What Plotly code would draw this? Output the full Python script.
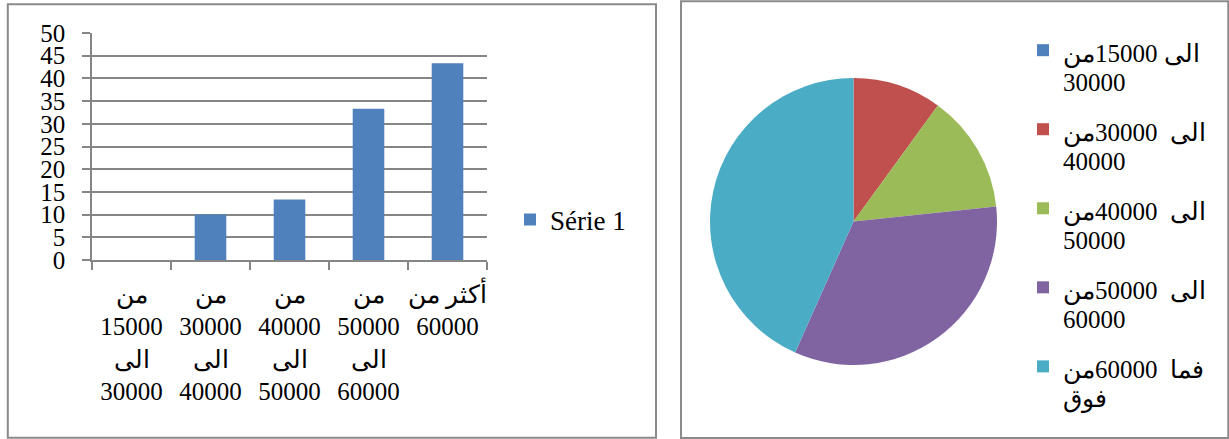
import plotly.graph_objects as go

# ---------------- data ----------------
categories = [
    "من<br>15000<br>الى<br>30000",
    "من<br>30000<br>الى<br>40000",
    "من<br>40000<br>الى<br>50000",
    "من<br>50000<br>الى<br>60000",
    "أكثر من<br>60000",
]
values = [0, 10, 13.33, 33.33, 43.33]
series_name = "Série 1"

pie_label_lines = [
    ["الى 15000من", "30000"],
    ["الى  30000من", "40000"],
    ["الى  40000من", "50000"],
    ["الى  50000من", "60000"],
    ["فما  60000من", "فوق"],
]
pie_colors = ["#4F81BD", "#C0504D", "#9BBB59", "#8064A2", "#4BACC6"]
y_tick_vals = [0, 5, 10, 15, 20, 25, 30, 35, 40, 45, 50]

# ---------------- styling helpers ----------------
W, H = 1229, 439
FONT = "Liberation Serif, DejaVu Serif, serif"
GRAY = "#868686"
BLUE = pie_colors[0]


def px_x(x):
    return x / W


def px_y(y):
    return 1 - y / H


def shifted(t, parent_px):
    # <sub> lowers the text by 0.3em of (0.7 * parent size); inner span sets the visible size
    return (f"<span style='font-size:{parent_px}px'><sub>"
            f"<span style='font-size:25px'>{t}</span></sub></span>")


pie_labels = [shifted(a, 20) + "<br>" + shifted(b, 38) + "<br>\u00a0" for a, b in pie_label_lines]

fig = go.Figure()

fig.add_trace(go.Bar(
    x=categories,
    y=values,
    name=series_name,
    marker=dict(color=BLUE, line=dict(width=0)),
    showlegend=True,
    legend="legend",
))

fig.add_trace(go.Pie(
    labels=pie_labels,
    values=values,
    sort=False,
    direction="clockwise",
    rotation=0,
    marker=dict(colors=pie_colors, line=dict(width=0)),
    textinfo="none",
    domain=dict(x=[px_x(710), px_x(997)], y=[px_y(365), px_y(78)]),
    legend="legend2",
))

fig.update_layout(
    width=W,
    height=H,
    margin=dict(l=0, r=0, t=0, b=0, autoexpand=False),
    paper_bgcolor="white",
    plot_bgcolor="white",
    font=dict(family=FONT, size=25, color="black"),
    bargap=0.6,
    xaxis=dict(
        domain=[px_x(92), px_x(487)],
        showline=True, linecolor=GRAY, linewidth=1.5,
        ticks="outside", ticklen=8, tickcolor=GRAY, tickwidth=1.5,
        tickson="boundaries",
        tickangle=0,
        showgrid=False,
        automargin=False,
        tickfont=dict(size=25, family=FONT, color="black"),
        ticklabelstandoff=11,
        fixedrange=True,
    ),
    yaxis=dict(
        domain=[px_y(260), px_y(33)],
        range=[0, 50],
        tickvals=y_tick_vals,
        showgrid=True, gridcolor=GRAY, gridwidth=1.5,
        showline=True, linecolor=GRAY, linewidth=1.5,
        ticks="outside", ticklen=8, tickcolor=GRAY, tickwidth=1.5,
        zeroline=False,
        automargin=False,
        tickfont=dict(size=25, family=FONT, color="black"),
        ticklabelstandoff=12,
        fixedrange=True,
    ),
    legend=dict(
        x=px_x(510), y=px_y(220), xanchor="left", yanchor="middle",
        font=dict(size=27, family=FONT, color="black"),
        bgcolor="rgba(0,0,0,0)",
    ),
    legend2=dict(
        x=px_x(1023), y=px_y(31), xanchor="left", yanchor="top",
        font=dict(size=19.5, family=FONT, color="black"),
        valign="top",
        bgcolor="rgba(0,0,0,0)",
    ),
    shapes=[
        dict(type="rect", xref="paper", yref="paper",
             x0=px_x(7.8), x1=px_x(656), y0=px_y(437.8), y1=px_y(4.3),
             line=dict(color="#8a8a8a", width=2)),
        dict(type="rect", xref="paper", yref="paper",
             x0=px_x(681), x1=px_x(1228.3), y0=px_y(438), y1=px_y(1.2),
             line=dict(color="#8a8a8a", width=2)),
    ],
)

fig.write_html("out.html")
